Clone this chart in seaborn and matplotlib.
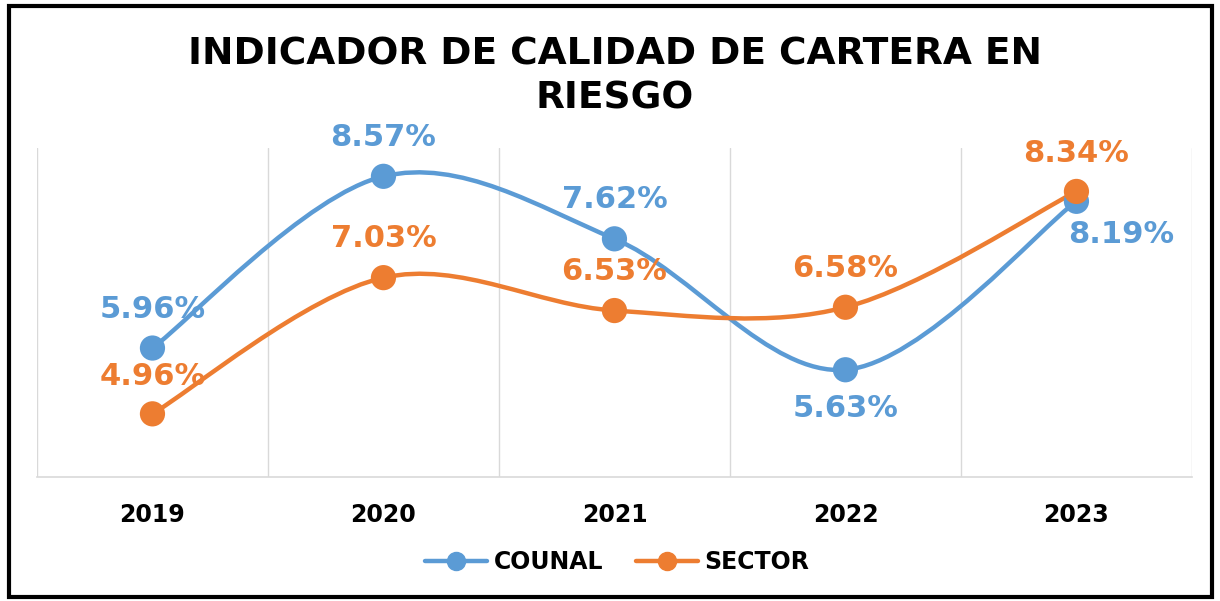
import matplotlib
matplotlib.use('Agg')
import matplotlib.pyplot as plt
from matplotlib.path import Path
from matplotlib.patches import PathPatch, Rectangle
import numpy as np
import pandas as pd
import seaborn as sns

# Data
years = ['2019', '2020', '2021', '2022', '2023']
counal = [5.96, 8.57, 7.62, 5.63, 8.19]
sector = [4.96, 7.03, 6.53, 6.58, 8.34]
series_names = ['COUNAL', 'SECTOR']
colors = {'COUNAL': '#5b9bd5', 'SECTOR': '#ed7d31'}

df = pd.DataFrame({
    'year': years * 2,
    'value': counal + sector,
    'serie': ['COUNAL'] * 5 + ['SECTOR'] * 5,
})
df['x'] = list(range(5)) * 2

sns.set_style('white')
plt.rcParams['font.family'] = ['DejaVu Sans']
plt.rcParams['text.color'] = 'black'
plt.rcParams['xtick.color'] = 'black'


def smooth_path(xs, ys):
    # Excel-like smoothed line: Catmull-Rom segments as cubic Bezier curves
    pts = np.column_stack([xs, ys]).astype(float)
    n = len(pts)
    verts = [pts[0]]
    codes = [Path.MOVETO]
    for i in range(n - 1):
        p0 = pts[i - 1] if i > 0 else pts[i]
        p1 = pts[i]
        p2 = pts[i + 1]
        p3 = pts[i + 2] if i + 2 < n else pts[i + 1]
        c1 = p1 + (p2 - p0) / 6.0
        c2 = p2 - (p3 - p1) / 6.0
        verts += [c1, c2, p2]
        codes += [Path.CURVE4] * 3
    return Path(verts, codes)


fig = plt.figure(figsize=(12.2, 6.01), dpi=100)
ax = fig.add_axes([0.0303, 0.2063, 0.9467, 0.5474])

for name in series_names:
    sub = df[df['serie'] == name]
    patch = PathPatch(smooth_path(sub['x'], sub['value']), facecolor='none',
                      edgecolor=colors[name], lw=3.2, zorder=3,
                      capstyle='round', joinstyle='round')
    ax.add_patch(patch)

sns.scatterplot(data=df, x='x', y='value', hue='serie', palette=colors,
                s=330, edgecolor='none', ax=ax, zorder=4, legend=False)

# data labels (offset in points)
label_offsets = {
    'COUNAL': [(0, 28), (0, 28), (0, 28), (0, -28), (32, -24)],
    'SECTOR': [(0, 27), (0, 28), (0, 28), (0, 28), (0, 27)],
}
for name, vals in (('COUNAL', counal), ('SECTOR', sector)):
    for i, v in enumerate(vals):
        dx, dy = label_offsets[name][i]
        ax.annotate(f'{v:.2f}%', (i, v), xytext=(dx, dy),
                    textcoords='offset points', ha='center', va='center',
                    fontsize=22, fontweight='bold', color=colors[name],
                    zorder=5)

ax.set_xlim(-0.5, 4.5)
ax.set_ylim(4, 9)
ax.set_xticks(range(5))
ax.set_xticklabels(years, fontsize=17, fontweight='heavy')
ax.set_xticks(np.arange(-0.5, 5, 1), minor=True)
ax.tick_params(axis='x', which='both', length=0, pad=19, colors='black')
ax.set_yticks([])
ax.grid(False)
ax.grid(True, which='minor', axis='x', color='#d9d9d9', lw=1)
ax.set_axisbelow(True)
ax.set_xlabel('')
ax.set_ylabel('')
for side in ('top', 'left', 'right'):
    ax.spines[side].set_visible(False)
ax.spines['bottom'].set_color('#d9d9d9')
ax.spines['bottom'].set_linewidth(1.2)

fig.text(0.504, 0.873, 'INDICADOR DE CALIDAD DE CARTERA EN\nRIESGO',
         ha='center', va='center', fontsize=27, fontweight='bold',
         color='black', linespacing=1.3)

# legend
handles = [plt.Line2D([], [], color=colors[n], lw=3.2, marker='o',
                      markersize=13) for n in series_names]
fig.legend(handles, series_names, loc='center', bbox_to_anchor=(0.506, 0.065),
           ncol=2, frameon=False, handlelength=2.6, columnspacing=1.4,
           handletextpad=0.3, labelcolor='black',
           prop={'weight': 'bold', 'size': 17})

# outer border
fig.patches.append(Rectangle((0.0075, 0.006), 0.986, 0.984,
                             transform=fig.transFigure, fill=False,
                             edgecolor='black', lw=3))

fig.savefig('out.png', dpi=100)
